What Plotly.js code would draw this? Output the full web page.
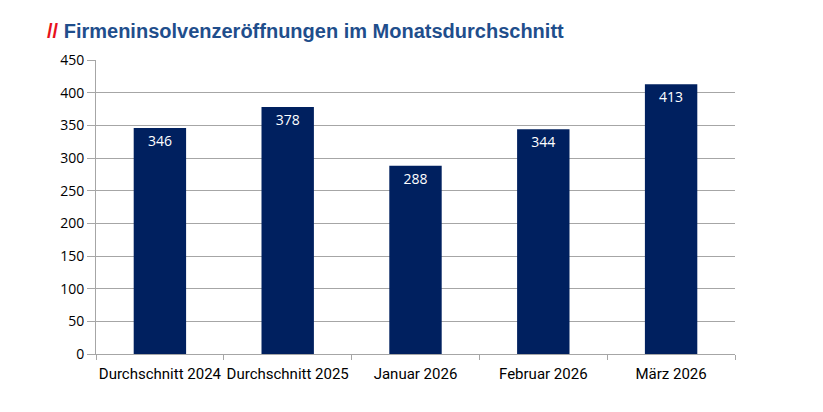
<!DOCTYPE html>
<html><head><meta charset="utf-8">
<script src="https://cdn.plot.ly/plotly-3.0.1.min.js"></script>
<style>body{margin:0;background:#fff}#chart{width:823px;height:412px}</style>
</head><body><div id="chart"></div>
<script>
const categories = ["Durchschnitt 2024", "Durchschnitt 2025", "Januar 2026", "Februar 2026", "März 2026"];
const values = [346, 378, 288, 344, 413];
const yTicks = [0, 50, 100, 150, 200, 250, 300, 350, 400, 450];

const trace = {
  type: 'bar', x: categories, y: values,
  text: values.map(String), textposition: 'inside', insidetextanchor: 'end',
  textfont: {family: 'Open Sans, sans-serif', size: 14, color: '#ffffff'},
  marker: {color: '#00205F'}, width: 0.41, hoverinfo: 'none', cliponaxis: false
};
const layout = {
  width: 823, height: 412,
  margin: {l: 96, r: 88, t: 60, b: 58},
  paper_bgcolor: '#fff', plot_bgcolor: '#fff',
  showlegend: false,
  title: {
    text: "<span style='color:#e8121b'>//</span> Firmeninsolvenzeröffnungen im Monatsdurchschnitt",
    font: {family: 'Liberation Sans, Arial, sans-serif', size: 20, color: '#1F4E8C', weight: 'bold'},
    x: 47/823, xanchor: 'left', xref: 'container', y: 1 - 31/412, yanchor: 'middle', yref: 'container'
  },
  xaxis: {
    type: 'category', showgrid: false, showline: true, linecolor: '#A6A6A6', linewidth: 1,
    ticks: 'outside', tickson: 'boundaries', ticklen: 5, tickcolor: '#A6A6A6',
    tickangle: 0, ticklabelstandoff: 6,
    tickfont: {family: 'Roboto, sans-serif', size: 15, color: '#000'},
    fixedrange: true
  },
  yaxis: {
    range: [0, 450], tickvals: yTicks, ticktext: yTicks.map(String),
    showgrid: true, gridcolor: '#A6A6A6', gridwidth: 1, zeroline: false,
    showline: true, linecolor: '#A6A6A6', linewidth: 1,
    ticks: 'outside', ticklen: 8, tickcolor: '#A6A6A6',
    tickfont: {family: 'Open Sans, sans-serif', size: 14, color: '#000'},
    fixedrange: true
  }
};
Plotly.newPlot('chart', [trace], layout, {displayModeBar: false, staticPlot: true});
</script></body></html>
